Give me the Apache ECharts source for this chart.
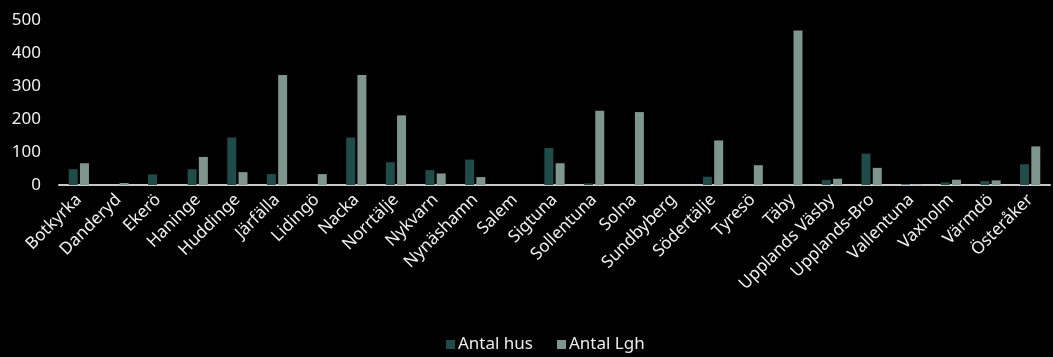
<!DOCTYPE html>
<html>
<head>
<meta charset="utf-8">
<script src="https://cdn.jsdelivr.net/npm/echarts@6/dist/echarts.min.js"></script>
<style>
html,body{margin:0;padding:0;background:#000;}
#chart{width:1053px;height:357px;}
</style>
</head>
<body>
<div id="chart"></div>
<script>
// Municipalities along the category axis
const kommuner = ['Botkyrka','Danderyd','Ekerö','Haninge','Huddinge','Järfälla','Lidingö','Nacka','Norrtälje','Nykvarn','Nynäshamn','Salem','Sigtuna','Sollentuna','Solna','Sundbyberg','Södertälje','Tyresö','Täby','Upplands Väsby','Upplands-Bro','Vallentuna','Vaxholm','Värmdö','Österåker'];
// Number of houses per municipality
const antalHus = [48,0,32,48,144,33,0,144,69,45,77,0,112,5,0,0,25,0,0,15,95,2,8,12,63];
// Number of apartments per municipality
const antalLgh = [66,6,0,85,39,333,33,333,211,35,24,0,66,225,221,0,135,60,468,19,52,1,16,14,117];
// Value axis ticks
const yTicks = [0,100,200,300,400,500];

const font = '"Noto Sans", "Open Sans", sans-serif';
const chart = echarts.init(document.getElementById('chart'));
chart.setOption({
  backgroundColor: '#000000',
  animation: false,
  textStyle: { fontFamily: font },
  legend: {
    data: ['Antal hus','Antal Lgh'],
    top: 336,
    left: 441,
    padding: [0,5],
    itemWidth: 9,
    itemHeight: 9,
    itemGap: 24,
    icon: 'rect',
    textStyle: { color: '#ececec', fontSize: 17, fontFamily: font, padding: [0,0,0,-2] }
  },
  grid: { left: 59, right: 3, top: 20, bottom: 172, containLabel: false },
  xAxis: {
    type: 'category',
    data: kommuner,
    axisLine: { lineStyle: { color: '#c8c8c8', width: 2 } },
    axisTick: { show: false },
    axisLabel: { color: '#f0f0f0', fontSize: 17, rotate: 45, interval: 0, margin: 12, fontFamily: font }
  },
  yAxis: {
    type: 'value',
    min: yTicks[0],
    max: yTicks[yTicks.length - 1],
    interval: 100,
    splitLine: { show: false },
    axisLine: { show: false },
    axisTick: { show: false },
    axisLabel: { color: '#f0f0f0', fontSize: 17, margin: 18, fontFamily: font }
  },
  series: [
    {
      name: 'Antal hus',
      type: 'bar',
      data: antalHus,
      barWidth: 9,
      barGap: '25%',
      itemStyle: { color: '#1f4b49' }
    },
    {
      name: 'Antal Lgh',
      type: 'bar',
      data: antalLgh,
      barWidth: 9,
      itemStyle: { color: '#7e968e' }
    }
  ]
});
</script>
</body>
</html>
